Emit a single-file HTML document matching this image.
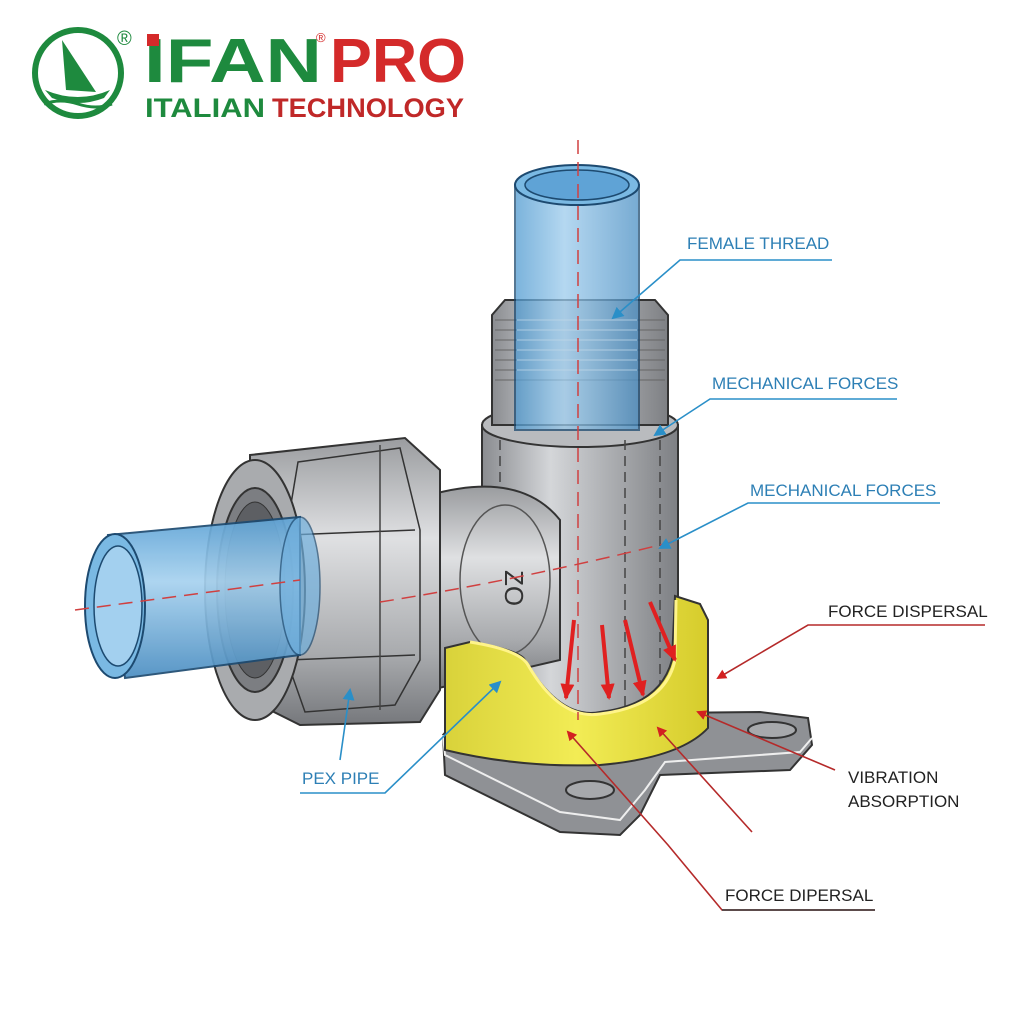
<!DOCTYPE html>
<html><head><style>
html,body{margin:0;padding:0;background:#fff;}
svg{display:block}
text{font-family:"Liberation Sans",sans-serif;}
</style></head><body>
<svg width="1024" height="1024" viewBox="0 0 1024 1024" xmlns="http://www.w3.org/2000/svg">
<defs>
<linearGradient id="gv" x1="0" x2="1"><stop offset="0" stop-color="#8a8c90"/><stop offset="0.35" stop-color="#d4d6d9"/><stop offset="0.7" stop-color="#a6a8ab"/><stop offset="1" stop-color="#7e8084"/></linearGradient>
<linearGradient id="gh" x1="0" y1="0" x2="0" y2="1"><stop offset="0" stop-color="#9a9c9f"/><stop offset="0.35" stop-color="#dfe0e2"/><stop offset="0.75" stop-color="#a9abae"/><stop offset="1" stop-color="#76787c"/></linearGradient>
<linearGradient id="bv" x1="0" x2="1"><stop offset="0" stop-color="#4f9ad0"/><stop offset="0.4" stop-color="#9ccbec"/><stop offset="1" stop-color="#4a8fc4"/></linearGradient>
<linearGradient id="bh" x1="0" y1="0" x2="0" y2="1"><stop offset="0" stop-color="#5ea3d6"/><stop offset="0.4" stop-color="#a7d2ef"/><stop offset="1" stop-color="#4b8ec2"/></linearGradient>
<linearGradient id="yl" x1="0" x2="1"><stop offset="0" stop-color="#d9d23a"/><stop offset="0.5" stop-color="#f2ec55"/><stop offset="1" stop-color="#d6cc2c"/></linearGradient>
<marker id="ar" markerWidth="10" markerHeight="10" refX="8" refY="5" orient="auto" markerUnits="userSpaceOnUse"><path d="M0,0 L10,5 L0,10 z" fill="#d32020"/></marker>
<marker id="ab" markerWidth="12" markerHeight="12" refX="10" refY="6" orient="auto" markerUnits="userSpaceOnUse"><path d="M0,0 L12,6 L0,12 z" fill="#2a8fc8"/></marker>
<marker id="ar2" markerWidth="16" markerHeight="14" refX="14" refY="7" orient="auto" markerUnits="userSpaceOnUse"><path d="M0,0 L16,7 L0,14 z" fill="#e02020"/></marker>
</defs>

<circle cx="78" cy="73" r="43" fill="none" stroke="#1e8a3e" stroke-width="6"/>
<path d="M62,40 L66,90 L96,92 Z" fill="#1e8a3e"/>
<path d="M45,90 Q78,104 110,90 L104,98 Q78,108 52,98 Z" fill="#1e8a3e"/>
<path d="M44,104 Q60,98 78,104 T112,104" stroke="#1e8a3e" stroke-width="3" fill="none"/>
<text x="117" y="45" font-size="20" fill="#1e8a3e">®</text>
<text x="144" y="82" font-size="62" font-weight="bold" fill="#1e8a3e" textLength="178" lengthAdjust="spacingAndGlyphs">IFAN</text>
<rect x="147" y="34" width="12" height="12" fill="#d42a2a"/>
<text x="316" y="42" font-size="13" fill="#d42a2a">®</text>
<text x="330" y="82" font-size="62" font-weight="bold" fill="#d42a2a" textLength="136" lengthAdjust="spacingAndGlyphs">PRO</text>
<text x="145" y="117" font-size="27" font-weight="bold" fill="#1e8a3e" textLength="120" lengthAdjust="spacingAndGlyphs">ITALIAN</text>
<text x="272" y="117" font-size="27" font-weight="bold" fill="#c02828" textLength="192" lengthAdjust="spacingAndGlyphs">TECHNOLOGY</text>

<path d="M443,735 L460,715 L760,712 L808,718 L812,745 L790,770 L660,775 L640,815 L620,835 L560,832 L445,775 Z" fill="#8f9195" stroke="#333" stroke-width="2"/>
<path d="M443,735 L445,755 L560,812 L620,820 L645,790 L665,762 L800,752 L812,738" fill="none" stroke="#eee" stroke-width="2"/>
<ellipse cx="772" cy="730" rx="24" ry="8" fill="#a7a9ac" stroke="#333" stroke-width="2"/>
<ellipse cx="590" cy="790" rx="24" ry="9" fill="#a7a9ac" stroke="#333" stroke-width="2"/>

<rect x="482" y="425" width="196" height="290" fill="url(#gv)" stroke="#333" stroke-width="2"/>
<ellipse cx="580" cy="425" rx="98" ry="22" fill="#b9bbbe" stroke="#333" stroke-width="2"/>
<path d="M492,425 L492,315 L505,300 L655,300 L668,315 L668,425 Z" fill="url(#gv)" stroke="#333" stroke-width="2"/>
<g stroke="#666" stroke-width="1">
<line x1="495" y1="320" x2="665" y2="320"/><line x1="495" y1="330" x2="665" y2="330"/><line x1="495" y1="340" x2="665" y2="340"/><line x1="495" y1="350" x2="665" y2="350"/><line x1="495" y1="360" x2="665" y2="360"/><line x1="495" y1="370" x2="665" y2="370"/><line x1="495" y1="380" x2="665" y2="380"/>
</g>
<rect x="515" y="185" width="124" height="245" fill="url(#bv)" opacity="0.75" stroke="#1d4a70" stroke-width="2"/>
<g stroke="#cfe4f3" stroke-width="1" opacity="0.7">
<line x1="517" y1="320" x2="637" y2="320"/><line x1="517" y1="330" x2="637" y2="330"/><line x1="517" y1="340" x2="637" y2="340"/><line x1="517" y1="350" x2="637" y2="350"/><line x1="517" y1="360" x2="637" y2="360"/><line x1="517" y1="370" x2="637" y2="370"/>
</g>
<ellipse cx="577" cy="185" rx="62" ry="20" fill="#7ab9e3" stroke="#1d4a70" stroke-width="2"/>
<ellipse cx="577" cy="185" rx="52" ry="15" fill="#5fa3d6" stroke="#1d4a70" stroke-width="1.5"/>
<line x1="500" y1="440" x2="500" y2="700" stroke="#444" stroke-width="1.5" stroke-dasharray="10 6"/>
<line x1="625" y1="440" x2="625" y2="715" stroke="#444" stroke-width="1.5" stroke-dasharray="10 6"/>
<line x1="660" y1="440" x2="660" y2="690" stroke="#444" stroke-width="1.5" stroke-dasharray="10 6"/>

<path d="M430,495 Q520,470 560,520 L560,660 L430,690 Z" fill="url(#gh)" stroke="#333" stroke-width="2"/>
<ellipse cx="505" cy="580" rx="45" ry="75" fill="none" stroke="#555" stroke-width="1.5"/>
<text x="480" y="565" font-size="26" fill="#333" transform="rotate(90 490 580)">ZO</text>

<path d="M445,648 L470,642 Q520,650 525,660 Q560,720 600,712 Q660,705 672,660 L675,596 L700,604 L708,620 L708,728 Q680,758 600,765 Q520,768 445,750 Z" fill="url(#yl)" stroke="#333" stroke-width="2"/>
<path d="M470,642 Q520,650 528,665 Q560,720 600,714 Q665,706 675,660 L676,600" fill="none" stroke="#fff48a" stroke-width="3"/>

<path d="M250,455 L405,438 L440,470 L440,690 L420,722 L300,725 L250,700 Z" fill="url(#gh)" stroke="#333" stroke-width="2"/>
<path d="M298,462 L400,448 L420,530 L420,660 L395,705 L305,712 L285,655 L285,540 Z" fill="none" stroke="#333" stroke-width="1.5"/>
<line x1="288" y1="535" x2="415" y2="530" stroke="#333" stroke-width="1.5"/>
<line x1="288" y1="660" x2="415" y2="655" stroke="#333" stroke-width="1.5"/>
<line x1="380" y1="445" x2="380" y2="710" stroke="#444" stroke-width="1.5"/>
<ellipse cx="255" cy="590" rx="50" ry="130" fill="#a9abae" stroke="#333" stroke-width="2"/>
<ellipse cx="255" cy="590" rx="38" ry="102" fill="#7c7e82" stroke="#333" stroke-width="2"/>
<ellipse cx="255" cy="590" rx="30" ry="88" fill="#5d5f63" stroke="#333" stroke-width="1"/>

<path d="M108,535 L300,517 L300,655 L125,678 Z" fill="url(#bh)" opacity="0.92" stroke="#1d4a70" stroke-width="2"/>
<ellipse cx="300" cy="586" rx="20" ry="69" fill="#6eaedc" opacity="0.7" stroke="#1d4a70" stroke-width="1.5"/>
<ellipse cx="115" cy="606" rx="30" ry="72" fill="#7ab9e3" stroke="#1d4a70" stroke-width="2"/>
<ellipse cx="118" cy="606" rx="24" ry="60" fill="#a3d0ef" stroke="#1d4a70" stroke-width="1.5"/>

<line x1="578" y1="140" x2="578" y2="720" stroke="#d04040" stroke-width="1.5" stroke-dasharray="14 8"/>
<path d="M75,610 L300,580" stroke="#d04040" stroke-width="1.5" stroke-dasharray="14 8" fill="none"/>
<path d="M380,602 Q520,580 680,540" stroke="#d04040" stroke-width="1.5" stroke-dasharray="14 8" fill="none"/>

<g stroke="#e02020" stroke-width="4" fill="none">
<line x1="574" y1="620" x2="566" y2="698" marker-end="url(#ar2)"/>
<line x1="602" y1="625" x2="609" y2="698" marker-end="url(#ar2)"/>
<line x1="625" y1="620" x2="643" y2="695" marker-end="url(#ar2)"/>
<line x1="650" y1="602" x2="675" y2="660" marker-end="url(#ar2)"/>
</g>

<g font-size="17" fill="#2d7fb5">
<text x="687" y="249">FEMALE THREAD</text>
<text x="712" y="389">MECHANICAL FORCES</text>
<text x="750" y="496">MECHANICAL FORCES</text>
<text x="302" y="784">PEX PIPE</text>
</g>
<g stroke="#2a8fc8" stroke-width="1.6" fill="none">
<polyline points="832,260 680,260 613,318" marker-end="url(#ab)"/>
<polyline points="897,399 710,399 655,435" marker-end="url(#ab)"/>
<polyline points="940,503 748,503 660,548" marker-end="url(#ab)"/>
<polyline points="300,793 385,793 500,682" marker-end="url(#ab)"/>
<line x1="340" y1="760" x2="350" y2="690" marker-end="url(#ab)"/>
</g>
<g font-size="17" fill="#222">
<text x="828" y="617">FORCE DISPERSAL</text>
<text x="848" y="783">VIBRATION</text>
<text x="848" y="807">ABSORPTION</text>
<text x="725" y="901">FORCE DIPERSAL</text>
</g>
<g stroke="#b52a2a" stroke-width="1.6" fill="none">
<polyline points="985,625 808,625 718,678" marker-end="url(#ar)"/>
<line x1="835" y1="770" x2="698" y2="712" marker-end="url(#ar)"/>
<line x1="752" y1="832" x2="658" y2="728" marker-end="url(#ar)"/>
<polyline points="875,910 722,910 668,845 568,732" marker-end="url(#ar)"/>
</g>
<line x1="722" y1="910" x2="875" y2="910" stroke="#333" stroke-width="1.5"/>
</svg>
</body></html>
